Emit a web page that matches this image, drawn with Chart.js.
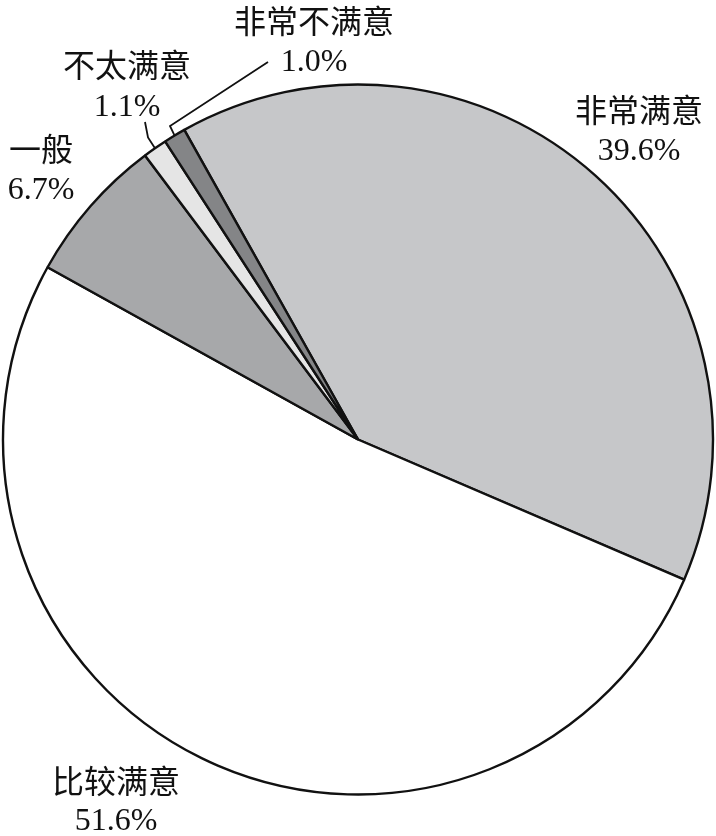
<!DOCTYPE html>
<html>
<head>
<meta charset="utf-8">
<script src="https://cdn.jsdelivr.net/npm/chart.js@4.4.1/dist/chart.umd.min.js"></script>
<style>
  html, body { margin: 0; padding: 0; background: #ffffff; }
  #wrap { width: 716px; height: 836px; position: relative; }
</style>
</head>
<body>
<div id="wrap"><canvas id="c" width="716" height="836"></canvas></div>
<script>
// ---- data ----
const categories = ['非常满意', '比较满意', '一般', '不太满意', '非常不满意'];
const shares = [39.6, 51.6, 6.7, 1.1, 1.0];
const percentLabels = ['39.6%', '51.6%', '6.7%', '1.1%', '1.0%'];

// ---- style ----
const sliceColors = ['#c6c7c9', '#ffffff', '#a7a8aa', '#e5e5e5', '#848587'];

// label layout, offsets relative to pie centre (px): [x, line1Y, line2Y]
const labelLayout = [
  [281, -330, -290],
  [-242, 341, 380],
  [-317, -291, -251],
  [-231, -375, -334],
  [-44, -419, -379]
];
// leader lines (elbow points relative to centre), null = none
const leaderLayout = [
  null, null, null,
  [[-213, -317.5], [-210, -302]],
  [[-90, -377.5], [-188, -313.5]]
];

const labelPlugin = {
  id: 'pieLabels',
  afterDatasetsDraw(chart) {
    const ctx = chart.ctx;
    const meta = chart.getDatasetMeta(0);
    const first = meta.data[0];
    const cx = first.x, cy = first.y;
    ctx.save();
    ctx.fillStyle = '#111';
    ctx.textAlign = 'center';
    ctx.textBaseline = 'alphabetic';
    meta.data.forEach((arc, i) => {
      const L = labelLayout[i];
      ctx.font = '400 32px "Noto Sans CJK SC", sans-serif';
      ctx.fillText(categories[i], cx + L[0], cy + L[1] + 12);
      ctx.font = '32px "Liberation Serif", "DejaVu Serif", serif';
      ctx.fillText(percentLabels[i], cx + L[0], cy + L[2] + 10.5);
      const ld = leaderLayout[i];
      if (ld) {
        const mid = (arc.startAngle + arc.endAngle) / 2;
        const ex = cx + Math.cos(mid) * arc.outerRadius;
        const ey = cy + Math.sin(mid) * arc.outerRadius;
        ctx.beginPath();
        ctx.strokeStyle = '#111';
        ctx.lineWidth = 1.8;
        ctx.moveTo(cx + ld[0][0], cy + ld[0][1]);
        ctx.lineTo(cx + ld[1][0], cy + ld[1][1]);
        ctx.lineTo(ex, ey);
        ctx.stroke();
      }
    });
    ctx.restore();
  }
};

new Chart(document.getElementById('c'), {
  type: 'pie',
  data: {
    labels: categories,
    datasets: [{
      data: shares,
      backgroundColor: sliceColors,
      borderColor: '#111111',
      borderWidth: 2.4,
      hoverOffset: 0
    }]
  },
  options: {
    responsive: false,
    animation: false,
    devicePixelRatio: 1,
    rotation: -29.3,
    radius: 355,
    layout: { padding: { top: 43, bottom: 0, left: 0, right: 0 } },
    plugins: {
      legend: { display: false },
      tooltip: { enabled: false }
    },
    events: []
  },
  plugins: [labelPlugin]
});
</script>
</body>
</html>
